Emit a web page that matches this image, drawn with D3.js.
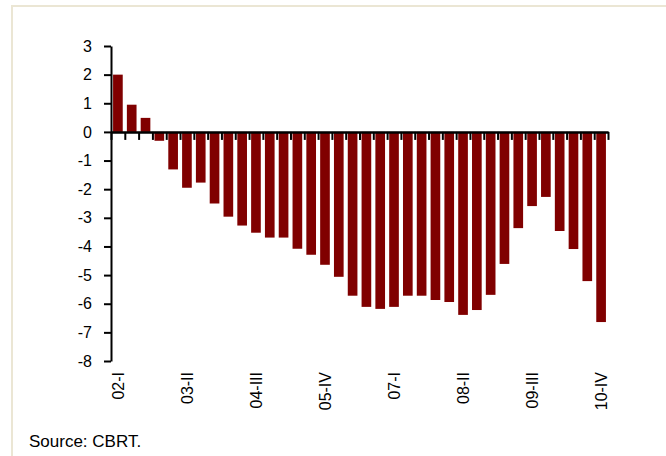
<!DOCTYPE html>
<html>
<head>
<meta charset="utf-8">
<script src="https://cdn.jsdelivr.net/npm/d3@7"></script>
<style>
  html, body { margin: 0; padding: 0; background: #ffffff; }
  svg { display: block; }
</style>
</head>
<body>
<svg id="chart" width="666" height="456"></svg>
<script>
const categories = [
  "02-I","02-II","02-III","02-IV",
  "03-I","03-II","03-III","03-IV",
  "04-I","04-II","04-III","04-IV",
  "05-I","05-II","05-III","05-IV",
  "06-I","06-II","06-III","06-IV",
  "07-I","07-II","07-III","07-IV",
  "08-I","08-II","08-III","08-IV",
  "09-I","09-II","09-III","09-IV",
  "10-I","10-II","10-III","10-IV"
];
const values = [
  2.0, 0.95, 0.49, -0.31,
  -1.31, -1.95, -1.77, -2.5,
  -2.96, -3.27, -3.52, -3.69,
  -3.69, -4.08, -4.29, -4.64,
  -5.06, -5.72, -6.11, -6.18,
  -6.11, -5.72, -5.72, -5.87,
  -5.94, -6.39, -6.22, -5.69,
  -4.61, -3.36, -2.59, -2.27,
  -3.46, -4.09, -5.21, -6.64
];
const tickLabels = ["02-I","03-II","04-III","05-IV","07-I","08-II","09-III","10-IV"];
const yTicks = [-8,-7,-6,-5,-4,-3,-2,-1,0,1,2,3];
const sourceText = "Source: CBRT.";

const svg = d3.select("#chart");

// frame lines (top and left)
svg.append("line").attr("x1", 12).attr("y1", 6).attr("x2", 666).attr("y2", 6)
  .attr("stroke", "#ebe6d4").attr("stroke-width", 2);
svg.append("line").attr("x1", 12).attr("y1", 5).attr("x2", 12).attr("y2", 456)
  .attr("stroke", "#ebe6d4").attr("stroke-width", 2);

const left = 111, right = 608;
const y = d3.scaleLinear().domain([-8, 3]).range([361, 46]);
const x = d3.scaleBand().domain(categories).range([left, right])
  .paddingInner(0.3).paddingOuter(0.15);
const xb = d3.scaleLinear().domain([0, categories.length]).range([left, right]);

// bars
svg.append("g").selectAll("rect").data(values).join("rect")
  .attr("x", (d, i) => x(categories[i]))
  .attr("width", x.bandwidth())
  .attr("y", d => y(Math.max(0, d)))
  .attr("height", d => Math.abs(y(d) - y(0)))
  .attr("fill", "#800000");

const fontFam = "'Liberation Sans', Arial, sans-serif";

// x axis ticks (category boundaries)
const xAxisG = svg.append("g").attr("transform", `translate(0,${y(0)})`)
  .call(d3.axisBottom(xb).tickValues(d3.range(categories.length + 1))
    .tickFormat("").tickSize(8).tickSizeOuter(0));
xAxisG.selectAll("path, line").attr("stroke", "#000").attr("stroke-width", 2);

// x labels
const xLabG = svg.append("g").attr("transform", `translate(0,${y(-8)})`)
  .call(d3.axisBottom(x).tickValues(tickLabels).tickSize(0));
xLabG.select(".domain").remove();
xLabG.selectAll("text")
  .attr("transform", "rotate(-90)")
  .attr("x", -11).attr("y", 0).attr("dy", "0.36em")
  .attr("text-anchor", "end")
  .attr("font-family", fontFam).attr("font-size", 16).attr("fill", "#000");

// y axis
const yAxisG = svg.append("g").attr("transform", `translate(${left},0)`)
  .call(d3.axisLeft(y).tickValues(yTicks).tickFormat(d => String(d))
    .tickSize(7).tickSizeOuter(0).tickPadding(12));
yAxisG.selectAll("path, line").attr("stroke", "#000").attr("stroke-width", 2);
yAxisG.selectAll("text").attr("font-family", fontFam).attr("font-size", 16).attr("fill", "#000");

// redraw x axis line on top
svg.append("g").attr("transform", `translate(0,${y(0)})`)
  .call(d3.axisBottom(xb).tickValues([]).tickSizeOuter(0))
  .selectAll("path").attr("stroke", "#000").attr("stroke-width", 2);

// source
svg.append("text").attr("x", 29).attr("y", 447)
  .attr("font-family", fontFam).attr("font-size", 17).attr("fill", "#000")
  .text(sourceText);
</script>
</body>
</html>
